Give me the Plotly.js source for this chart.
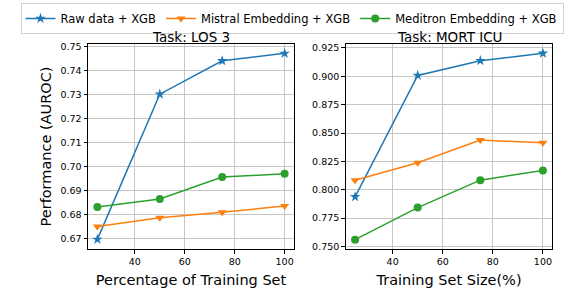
<!DOCTYPE html>
<html>
<head>
<meta charset="utf-8">
<script src="https://cdn.plot.ly/plotly-3.0.1.min.js"></script>
<style>html,body{margin:0;padding:0;background:#fff;} #chart{width:584px;height:289px;}</style>
</head>
<body>
<div id="chart"></div>
<script>
const trainPct = [25, 50, 75, 100];
const seriesNames = ["Raw data + XGB", "Mistral Embedding + XGB", "Meditron Embedding + XGB"];
const los3Raw = [0.6696, 0.7301, 0.7440, 0.7471];
const los3Mistral = [0.6750, 0.6786, 0.6809, 0.6835];
const los3Meditron = [0.6831, 0.6864, 0.6956, 0.6969];
const mortRaw = [0.7937, 0.9008, 0.9138, 0.9203];
const mortMistral = [0.8084, 0.8238, 0.8438, 0.8413];
const mortMeditron = [0.7559, 0.7842, 0.8084, 0.8170];
const xTickVals = [40, 60, 80, 100];

const colors = ["#1f77b4", "#ff7f0e", "#2ca02c"];
const symbols = ["star", "triangle-down", "circle"];
const sizes = [8, 8, 8];

function mk(y, i, axis, showleg) {
  return {
    x: trainPct, y: y, type: "scatter", mode: "lines+markers",
    name: seriesNames[i], legendgroup: "g" + i, showlegend: showleg,
    xaxis: axis[0], yaxis: axis[1],
    line: {color: colors[i], width: 1.5},
    marker: {color: colors[i], symbol: symbols[i], size: sizes[i]}
  };
}

const data = [
  mk(los3Raw, 0, ["x", "y"], true),
  mk(los3Mistral, 1, ["x", "y"], true),
  mk(los3Meditron, 2, ["x", "y"], true),
  mk(mortRaw, 0, ["x2", "y2"], false),
  mk(mortMistral, 1, ["x2", "y2"], false),
  mk(mortMeditron, 2, ["x2", "y2"], false)
];

const font = {family: "DejaVu Sans", color: "#000"};
const axBase = {
  showline: true, linecolor: "#000", linewidth: 1, mirror: true,
  ticks: "outside", ticklen: 3.5, tickcolor: "#000", tickwidth: 1,
  showgrid: true, gridcolor: "#c6c6c6", gridwidth: 1, zeroline: false,
  tickfont: {family: "DejaVu Sans", size: 9.5, color: "#000"}
};
const H = 289, W = 584;
const yDom = [40 / H, 245 / H];

const layout = {
  width: W, height: H,
  margin: {l: 0, r: 0, t: 0, b: 0},
  paper_bgcolor: "#fff", plot_bgcolor: "#fff",
  font: font,
  showlegend: true,
  legend: {
    orientation: "h", x: 0.5, xanchor: "center", y: 0.99, yanchor: "top",
    bordercolor: "#d0d0d0", borderwidth: 1, bgcolor: "#fff",
    font: {family: "DejaVu Sans", size: 11.5, color: "#000"},
    itemwidth: 30, tracegroupgap: 0
  },
  xaxis: Object.assign({}, axBase, {
    domain: [88 / W, 294 / W], range: [21.25, 103.75],
    tickvals: xTickVals, anchor: "y",
    title: {text: "Percentage of Training Set", font: {family: "DejaVu Sans", size: 14.5, color: "#000"}, standoff: 8}
  }),
  yaxis: Object.assign({}, axBase, {
    domain: yDom, range: [0.6656, 0.7510], dtick: 0.01, tick0: 0, tickformat: ".2f", anchor: "x",
    title: {text: "Performance (AUROC)", font: {family: "DejaVu Sans", size: 14.5, color: "#000"}, standoff: 5}
  }),
  xaxis2: Object.assign({}, axBase, {
    domain: [345.7 / W, 552.3 / W], range: [21.25, 103.75],
    tickvals: xTickVals, anchor: "y2",
    title: {text: "Training Set Size(%)", font: {family: "DejaVu Sans", size: 14.5, color: "#000"}, standoff: 8}
  }),
  yaxis2: Object.assign({}, axBase, {
    domain: yDom, range: [0.7477, 0.9285], dtick: 0.025, tick0: 0, tickformat: ".3f", anchor: "x2"
  }),
  annotations: [
    {text: "Task: LOS 3", xref: "paper", yref: "paper", x: 191 / W, y: (H - 37) / H, xanchor: "center", yanchor: "middle", showarrow: false, font: {family: "DejaVu Sans", size: 13.5, color: "#000"}},
    {text: "Task: MORT ICU", xref: "paper", yref: "paper", x: 449 / W, y: (H - 37) / H, xanchor: "center", yanchor: "middle", showarrow: false, font: {family: "DejaVu Sans", size: 13.5, color: "#000"}}
  ]
};

Plotly.newPlot("chart", data, layout, {displayModeBar: false, staticPlot: true});
</script>
</body>
</html>
